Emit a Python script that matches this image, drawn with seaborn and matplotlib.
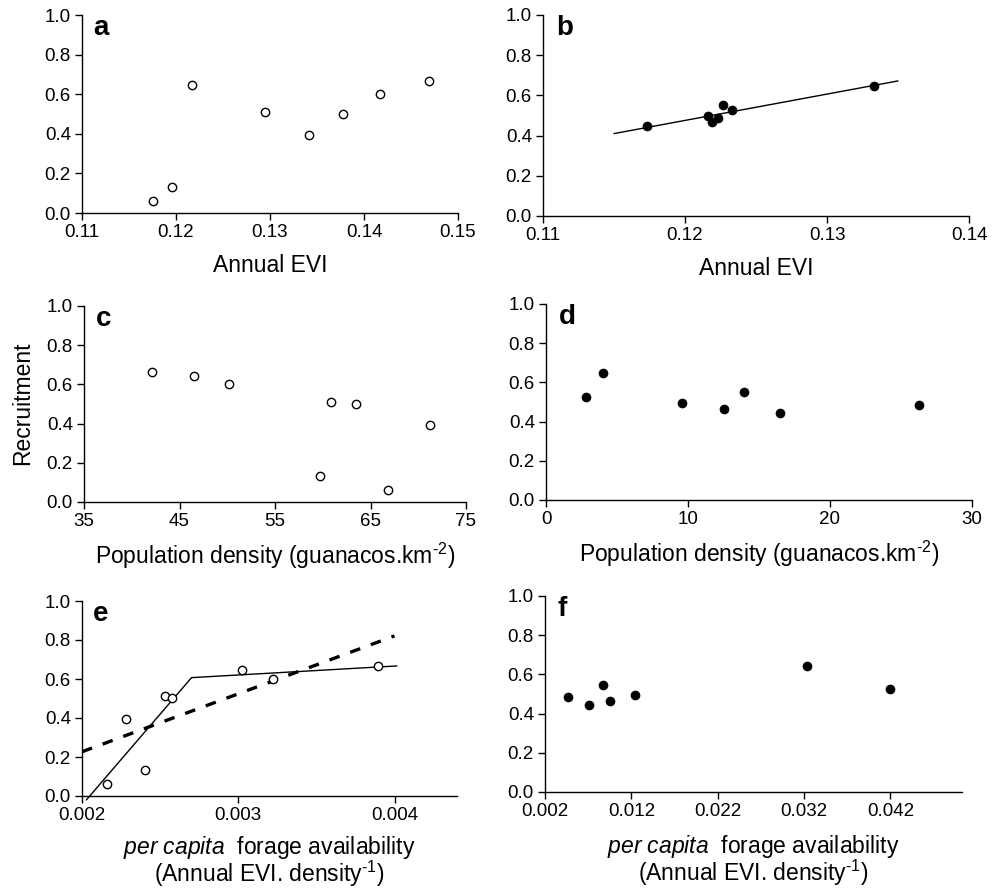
import matplotlib
matplotlib.use("Agg")
import matplotlib.pyplot as plt
import seaborn as sns

# ---- data ----
a_evi = [0.1175, 0.1196, 0.1217, 0.1295, 0.1342, 0.1378, 0.1417, 0.1469]
a_rec = [0.059, 0.130, 0.644, 0.509, 0.393, 0.501, 0.600, 0.666]

b_evi = [0.1173, 0.1216, 0.1219, 0.1223, 0.1227, 0.1233, 0.1333]
b_rec = [0.446, 0.497, 0.466, 0.488, 0.551, 0.526, 0.648]
b_fit_x = [0.115, 0.135]
b_fit_y = [0.410, 0.672]

c_dens = [42.1, 46.5, 50.2, 60.9, 63.5, 59.7, 66.8, 71.2]
c_rec = [0.664, 0.642, 0.600, 0.509, 0.501, 0.131, 0.060, 0.394]

d_dens = [2.84, 4.01, 9.55, 12.56, 13.92, 16.46, 26.29]
d_rec = [0.525, 0.647, 0.496, 0.465, 0.550, 0.446, 0.487]

e_fa = [0.00216, 0.002284, 0.002406, 0.002528, 0.002575, 0.003024, 0.003222, 0.003897]
e_rec = [0.060, 0.395, 0.132, 0.511, 0.503, 0.644, 0.600, 0.667]
e_seg_x = [0.002028, 0.002701, 0.004015]
e_seg_y = [-0.020, 0.607, 0.667]
e_lin_x = [0.002, 0.004]
e_lin_y = [0.227, 0.821]

f_fa = [0.004667, 0.007063, 0.008725, 0.009575, 0.012435, 0.032377, 0.041961]
f_rec = [0.484, 0.443, 0.547, 0.4635, 0.494, 0.6435, 0.523]

yticks = [0.0, 0.2, 0.4, 0.6, 0.8, 1.0]

sns.set_theme(style="ticks")
plt.rcParams["font.family"] = ["Liberation Sans", "DejaVu Sans"]
plt.rcParams["mathtext.fontset"] = "custom"
plt.rcParams["mathtext.rm"] = "Liberation Sans"
plt.rcParams["mathtext.it"] = "Liberation Sans:italic"
plt.rcParams["mathtext.bf"] = "Liberation Sans:bold"
for k in ["text.color", "axes.labelcolor", "xtick.color", "ytick.color",
          "axes.edgecolor"]:
    plt.rcParams[k] = "black"

W, H = 1000, 890
fig = plt.figure(figsize=(W / 100, H / 100), dpi=100)

TICK_FS = 13.5
LABEL_FS = 16.5
LETTER_FS = 20

DENS_LABEL = r"Population density (guanacos.km$^{\text{-2}}$)"
FA_LABEL = (r"$\mathit{per\ capita}$  forage availability" + "\n"
            + r"(Annual EVI. density$^{\text{-1}}$)")


def add_ax(l, r, t, b):
    return fig.add_axes([l / W, (H - b) / H, (r - l) / W, (b - t) / H])


def style(ax, xlim, xticks, xticklabels, letter, xlabel, labelpad=8,
          linespacing=1.2):
    ax.set_xlim(*xlim)
    ax.set_ylim(0, 1)
    ax.set_yticks(yticks)
    ax.set_yticklabels([f"{v:.1f}" for v in yticks])
    ax.set_xticks(xticks)
    ax.set_xticklabels(xticklabels)
    for s in ["top", "right"]:
        ax.spines[s].set_visible(False)
    for s in ["left", "bottom"]:
        ax.spines[s].set_linewidth(1.0)
        ax.spines[s].set_color("black")
    ax.tick_params(axis="both", direction="out", length=5, width=1.0,
                   labelsize=TICK_FS, colors="black", pad=3)
    ax.text(0.03, 1.0, letter, transform=ax.transAxes, fontsize=LETTER_FS,
            fontweight="bold", va="top", ha="left")
    ax.set_xlabel(xlabel, fontsize=LABEL_FS, labelpad=labelpad,
                  linespacing=linespacing)
    ax.set_ylabel("")
    ax.set_facecolor("white")


open_kw = dict(marker="o", s=36, facecolor="white", edgecolor="black",
               linewidth=1.0, zorder=3, clip_on=False)
fill_kw = dict(marker="o", s=42, color="black", edgecolor="black",
               linewidth=0.5, zorder=3, clip_on=False)

# a
ax = add_ax(82, 458, 15, 213)
sns.scatterplot(x=a_evi, y=a_rec, ax=ax, **open_kw)
style(ax, (0.11, 0.15), [0.11, 0.12, 0.13, 0.14, 0.15],
      ["0.11", "0.12", "0.13", "0.14", "0.15"], "a", "Annual EVI",
      labelpad=9)

# b
ax = add_ax(543, 969, 15, 216)
sns.lineplot(x=b_fit_x, y=b_fit_y, ax=ax, color="black", linewidth=1.0)
sns.scatterplot(x=b_evi, y=b_rec, ax=ax, **fill_kw)
style(ax, (0.11, 0.14), [0.11, 0.12, 0.13, 0.14],
      ["0.11", "0.12", "0.13", "0.14"], "b", "Annual EVI", labelpad=9)

# c
ax = add_ax(84, 466, 306, 502)
sns.scatterplot(x=c_dens, y=c_rec, ax=ax, **open_kw)
style(ax, (35, 75), [35, 45, 55, 65, 75],
      ["35", "45", "55", "65", "75"], "c", DENS_LABEL, labelpad=8)

# d
ax = add_ax(546, 972, 304, 500)
sns.scatterplot(x=d_dens, y=d_rec, ax=ax, **fill_kw)
style(ax, (0, 30), [0, 10, 20, 30], ["0", "10", "20", "30"], "d",
      DENS_LABEL, labelpad=8)

# e
ax = add_ax(82, 457, 601, 796)
sns.lineplot(x=e_lin_x, y=e_lin_y, ax=ax, color="black", linewidth=2.4)
ax.lines[-1].set_dashes([3.2, 3.4])
sns.lineplot(x=e_seg_x, y=e_seg_y, ax=ax, color="black", linewidth=1.0,
             sort=False)
ax.lines[-1].set_clip_on(False)
sns.scatterplot(x=e_fa, y=e_rec, ax=ax, **open_kw)
style(ax, (0.002, 0.0044), [0.002, 0.003, 0.004],
      ["0.002", "0.003", "0.004"], "e", FA_LABEL, labelpad=7,
      linespacing=0.92)

# f
ax = add_ax(545, 962, 596, 792)
sns.scatterplot(x=f_fa, y=f_rec, ax=ax, **fill_kw)
style(ax, (0.002, 0.0503), [0.002, 0.012, 0.022, 0.032, 0.042],
      ["0.002", "0.012", "0.022", "0.032", "0.042"], "f", FA_LABEL,
      labelpad=9, linespacing=0.92)

fig.text(0.023, (H - 403) / H, "Recruitment", rotation=90, fontsize=LABEL_FS,
         va="center", ha="center")

fig.savefig("out.png", dpi=100, facecolor="white")
